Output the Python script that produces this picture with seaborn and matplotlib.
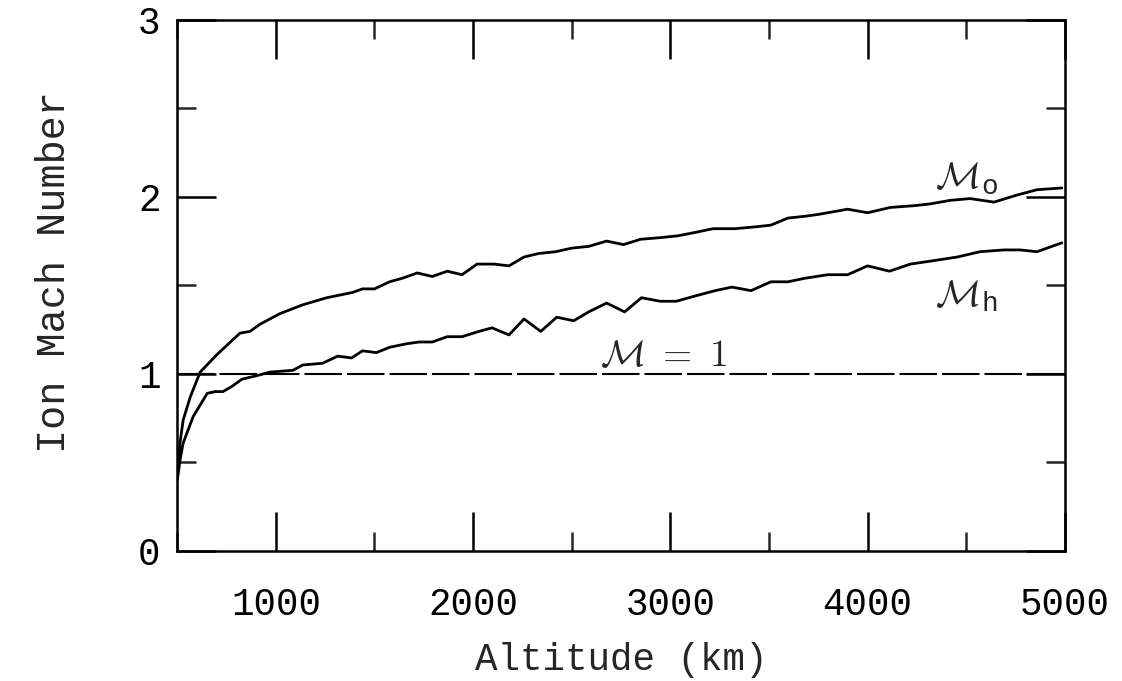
import numpy as np
import pandas as pd
import seaborn as sns
import matplotlib
matplotlib.use("Agg")
import matplotlib.pyplot as plt

# ---- data ----
alt_o = [500, 515, 530, 566, 616, 702, 818, 869, 919, 1020, 1136, 1258, 1389, 1439,
         1500, 1576, 1641, 1717, 1793, 1869, 1944, 2020, 2106, 2182, 2258, 2333,
         2419, 2500, 2586, 2677, 2763, 2848, 2955, 3040, 3131, 3217, 3328, 3429,
         3510, 3596, 3682, 3747, 3899, 4000, 4116, 4237, 4318, 4419, 4520, 4641,
         4758, 4859, 4985]
mach_o = [0.40, 0.62, 0.74, 0.87, 1.01, 1.11, 1.23, 1.24, 1.28, 1.34, 1.39, 1.43, 1.46, 1.48,
          1.48, 1.52, 1.54, 1.57, 1.55, 1.58, 1.56, 1.62, 1.62, 1.61, 1.66, 1.68,
          1.69, 1.71, 1.72, 1.75, 1.73, 1.76, 1.77, 1.78, 1.80, 1.82, 1.82, 1.83,
          1.84, 1.88, 1.89, 1.90, 1.93, 1.91, 1.94, 1.95, 1.96, 1.98, 1.99, 1.97,
          2.01, 2.04, 2.05]

alt_h = [500, 515, 530, 581, 652, 692, 732, 778, 828, 904, 970, 1086, 1136, 1237, 1313,
         1384, 1439, 1510, 1576, 1662, 1727, 1793, 1869, 1944, 2030, 2096, 2182,
         2258, 2343, 2424, 2510, 2586, 2677, 2768, 2854, 2949, 3030, 3126, 3227,
         3313, 3409, 3510, 3596, 3682, 3798, 3899, 4000, 4111, 4217, 4338, 4455,
         4571, 4692, 4773, 4859, 4985]
mach_h = [0.40, 0.52, 0.61, 0.76, 0.89, 0.90, 0.90, 0.93, 0.97, 0.99, 1.01, 1.02, 1.05, 1.06, 1.10,
          1.09, 1.13, 1.12, 1.15, 1.17, 1.18, 1.18, 1.21, 1.21, 1.24, 1.26, 1.22,
          1.31, 1.24, 1.32, 1.30, 1.35, 1.40, 1.35, 1.43, 1.41, 1.41, 1.44, 1.47,
          1.49, 1.47, 1.52, 1.52, 1.54, 1.56, 1.56, 1.61, 1.58, 1.62, 1.64, 1.66,
          1.69, 1.70, 1.70, 1.69, 1.74]

sonic_alt = [500, 5000]
sonic_mach = [1.0, 1.0]

x_ticks = [1000, 2000, 3000, 4000, 5000]
y_ticks = [0, 1, 2, 3]
x_label = "Altitude (km)"
y_label = "Ion Mach Number"

df_o = pd.DataFrame({"alt": alt_o, "mach": mach_o})
df_h = pd.DataFrame({"alt": alt_h, "mach": mach_h})
df_s = pd.DataFrame({"alt": sonic_alt, "mach": sonic_mach})

sns.set_style("ticks")
plt.rcParams["font.family"] = ["Liberation Mono", "DejaVu Sans Mono"]
plt.rcParams["mathtext.fontset"] = "cm"

fig = plt.figure(figsize=(11.22, 6.81), dpi=100)
ax = fig.add_axes([0.158, 0.191, 0.791, 0.780])

lw = 2.0
sns.lineplot(data=df_o, x="alt", y="mach", ax=ax, color="black", lw=lw, sort=False)
sns.lineplot(data=df_h, x="alt", y="mach", ax=ax, color="black", lw=lw, sort=False)
sns.lineplot(data=df_s, x="alt", y="mach", ax=ax, color="black", lw=1.5,
             linestyle=(0, (18, 2.4)), sort=False)

ax.set_xlim(500, 5000)
ax.set_ylim(0, 3)
ax.set_xticks(x_ticks)
ax.set_xticks(np.arange(500, 5001, 500), minor=True)
ax.set_yticks(y_ticks)
ax.set_yticks(np.arange(0, 3.01, 0.5), minor=True)
ax.set_xticklabels([str(t) for t in x_ticks])
ax.set_yticklabels([str(t) for t in y_ticks])

for s in ax.spines.values():
    s.set_visible(True)
    s.set_linewidth(1.8)
    s.set_color("black")

ax.tick_params(which="major", direction="in", length=28, width=1.8,
               top=True, right=True, labelsize=27, colors="black")
ax.tick_params(which="minor", direction="in", length=14, width=1.8,
               top=True, right=True)
ax.tick_params(axis="x", which="major", pad=26)
ax.tick_params(axis="y", which="major", pad=12)

ax.set_xlabel(x_label, fontsize=27, labelpad=14)
ax.set_ylabel(y_label, fontsize=29, labelpad=40)
ax.yaxis.set_label_coords(-0.118, 0.525)

# annotations
ax.text(2965, 1.045, r"$\mathcal{M}\ =\ 1$", fontsize=27, ha="center", va="baseline")

for yb, sub in [(2.05, "o"), (1.386, "h")]:
    ax.text(4343, yb, r"$\mathcal{M}$", fontsize=27, ha="left", va="baseline")
    ax.annotate(sub, xy=(4343, yb), xycoords="data", xytext=(33, -4),
                textcoords="offset points", fontsize=20,
                family=["Liberation Mono", "DejaVu Sans Mono"],
                ha="left", va="baseline")

fig.savefig("out.png", dpi=100, facecolor="white")
